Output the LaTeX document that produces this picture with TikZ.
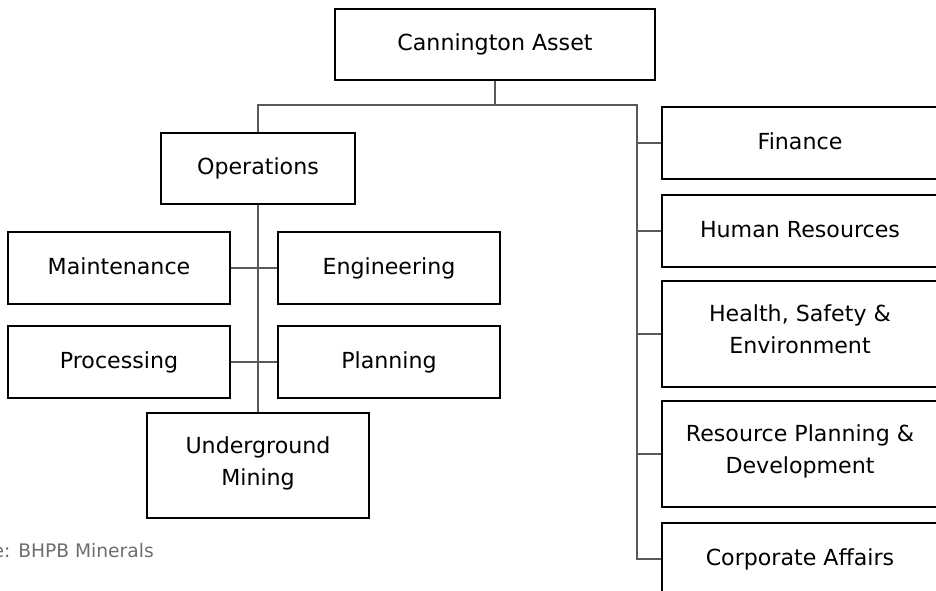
\documentclass[tikz,border=0pt]{standalone}
\usepackage{fontspec}
\setmainfont{DejaVu Sans}
\definecolor{linkgray}{HTML}{595959}
\definecolor{notegray}{HTML}{6E6E6E}

\begin{document}
\begin{tikzpicture}[x=0.75pt,y=-0.75pt,
    unit/.style={draw=black,line width=1.5pt,fill=white,align=center,
      inner sep=0pt,font=\fontsize{16.6}{24}\selectfont,
      execute at begin node=\strut,execute at end node=\strut},
    link/.style={draw=linkgray,line width=1.5pt}]
  \useasboundingbox (0,0) rectangle (936,591);
  \clip (0,0) rectangle (936,591);
  \coordinate (rail) at (637,105);
  \node[unit,minimum width=240pt,minimum height=53pt] (asset) at (495,44.5) {Cannington Asset};
  \node[unit,minimum width=145.5pt,minimum height=53pt] (ops) at (258,168.5) {Operations};
  \node[unit,minimum width=166.5pt,minimum height=54pt] (maint) at (119,268) {Maintenance};
  \node[unit,minimum width=166.5pt,minimum height=54pt] (eng) at (389,268) {Engineering};
  \node[unit,minimum width=166.5pt,minimum height=54pt] (proc) at (119,362) {Processing};
  \node[unit,minimum width=166.5pt,minimum height=54pt] (plan) at (389,362) {Planning};
  \node[unit,minimum width=166.5pt,minimum height=79pt] (mining) at (258,465.5) {Underground\\Mining};
  \node[unit,minimum width=207pt,minimum height=54pt] (fin) at (800,143) {Finance};
  \node[unit,minimum width=207pt,minimum height=54pt] (hr) at (800,231) {Human Resources};
  \node[unit,minimum width=207pt,minimum height=79.5pt] (hse) at (800,334) {Health, Safety \&\\Environment};
  \node[unit,minimum width=207pt,minimum height=79.5pt] (rpd) at (800,454) {Resource Planning \&\\Development};
  \node[unit,minimum width=207pt,minimum height=54pt] (corp) at (800,559) {Corporate Affairs};
  % connectors
  \draw[link] (asset.south) -- (asset.south |- rail);
  \draw[link] (ops.north) |- (rail) |- (corp.west);
  \draw[link] (rail |- fin.west) -- (fin.west);
  \draw[link] (rail |- hr.west) -- (hr.west);
  \draw[link] (rail |- hse.west) -- (hse.west);
  \draw[link] (rail |- rpd.west) -- (rpd.west);
  \draw[link] (ops.south) -- (mining.north);
  \draw[link] (maint.east) -- (eng.west);
  \draw[link] (proc.east) -- (plan.west);
  \node[anchor=base east,inner sep=0pt,text=notegray,font=\fontsize{14}{17}\selectfont] (note) at (154,557) {Source: BHPB Minerals};
\end{tikzpicture}
\end{document}
